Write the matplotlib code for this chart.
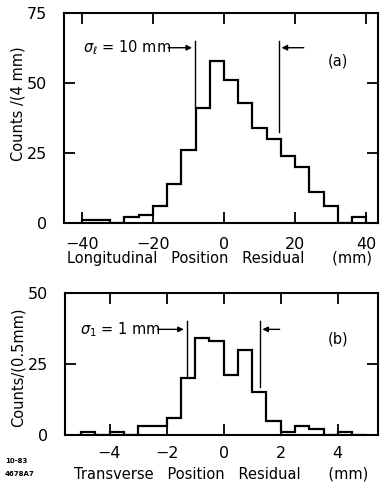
import matplotlib
matplotlib.use("Agg")
import matplotlib.pyplot as plt
import numpy as np

plt.rcParams['font.family'] = ['DejaVu Sans']

# Panel (a): longitudinal residual, 4 mm bins
long_edges = list(range(-40, 41, 4))
long_counts = [1, 1, 0, 2, 3, 6, 14, 26, 41, 58, 51, 43, 34, 30, 24, 20, 11, 6, 0, 2]
long_xticks = [-40, -20, 0, 20, 40]
long_yticks = [0, 25, 50, 75]

# Panel (b): transverse residual, 0.5 mm bins
trans_edges = [-5 + 0.5 * i for i in range(21)]
trans_counts = [1, 0, 1, 0, 3, 3, 6, 20, 34, 33, 21, 30, 15, 5, 1, 3, 2, 0, 1, 0]
trans_xticks = [-4, -2, 0, 2, 4]
trans_yticks = [0, 25, 50]

fig = plt.figure(figsize=(3.84, 4.88), dpi=100)
ax1 = fig.add_axes([64/384, 1-223/488, 314/384, 210/488])
ax2 = fig.add_axes([65/384, 1-435/488, 313/384, 142/488])

fs_tick = 11.5
fs_lab = 10.5

def style(ax):
    for s in ax.spines.values():
        s.set_linewidth(1.5)
    ax.tick_params(direction='in', length=8, width=1.3, top=True, right=True,
                   labelsize=fs_tick)

# ---- top panel
ax1.stairs(long_counts, long_edges, color='black', linewidth=1.6, baseline=0)
ax1.set_xlim(-45, 43.3)
ax1.set_ylim(0, 75)
ax1.set_xticks(long_xticks)
ax1.set_yticks(long_yticks)
style(ax1)
ax1.tick_params(axis='y', pad=12)
ax1.tick_params(axis='x', pad=10)
ax1.set_xlabel('Longitudinal   Position   Residual      (mm)', fontsize=fs_lab,
               va='center')
ax1.xaxis.set_label_coords(0.495, -(259 - 223) / 210)
fig.text(18/384, 1-104/488, 'Counts /(4 mm)', rotation=90, ha='center', va='center',
         fontsize=fs_lab)

ax1.text(-39.6, 62.6, r'$\sigma_\ell$ = 10 mm', fontsize=fs_lab, va='center', ha='left')
ax1.annotate('', xy=(-8.2, 62.6), xytext=(-16.5, 62.6),
             arrowprops=dict(arrowstyle='-|>', color='black', lw=1.0, mutation_scale=8))
ax1.plot([-8.2, -8.2], [41, 65], color='black', lw=1.0)
ax1.annotate('', xy=(15.4, 62.6), xytext=(23.2, 62.6),
             arrowprops=dict(arrowstyle='-|>', color='black', lw=1.0, mutation_scale=8))
ax1.plot([15.4, 15.4], [32.6, 65], color='black', lw=1.0)
ax1.text(32, 58, '(a)', fontsize=fs_lab, ha='center', va='center')

# ---- bottom panel
ax2.stairs(trans_counts, trans_edges, color='black', linewidth=1.6, baseline=0)
ax2.set_xlim(-5.56, 5.41)
ax2.set_ylim(0, 50)
ax2.set_xticks(trans_xticks)
ax2.set_yticks(trans_yticks)
style(ax2)
ax2.tick_params(axis='y', pad=12)
ax2.tick_params(axis='x', pad=8)
ax2.set_xlabel('Transverse   Position   Residual      (mm)', fontsize=fs_lab,
               va='center')
ax2.xaxis.set_label_coords(0.5, -(474 - 435) / 142)
fig.text(18/384, 1-367/488, 'Counts/(0.5mm)', rotation=90, ha='center', va='center',
         fontsize=fs_lab)

ax2.text(-5.03, 37.2, r'$\sigma_1$ = 1 mm', fontsize=fs_lab, va='center', ha='left')
ax2.annotate('', xy=(-1.3, 37.2), xytext=(-2.4, 37.2),
             arrowprops=dict(arrowstyle='-|>', color='black', lw=1.0, mutation_scale=8))
ax2.plot([-1.3, -1.3], [20.5, 40], color='black', lw=1.0)
ax2.annotate('', xy=(1.26, 37.2), xytext=(2.06, 37.2),
             arrowprops=dict(arrowstyle='-|>', color='black', lw=1.0, mutation_scale=8))
ax2.plot([1.26, 1.26], [17, 40], color='black', lw=1.0)
ax2.text(4.0, 33.8, '(b)', fontsize=fs_lab, ha='center', va='center')

fig.text(5/384, 1-461/488, '10-83', fontsize=5, fontweight='bold', ha='left', va='center')
fig.text(5/384, 1-474/488, '4678A7', fontsize=5, fontweight='bold', ha='left', va='center')

fig.savefig('out.png', dpi=100)
